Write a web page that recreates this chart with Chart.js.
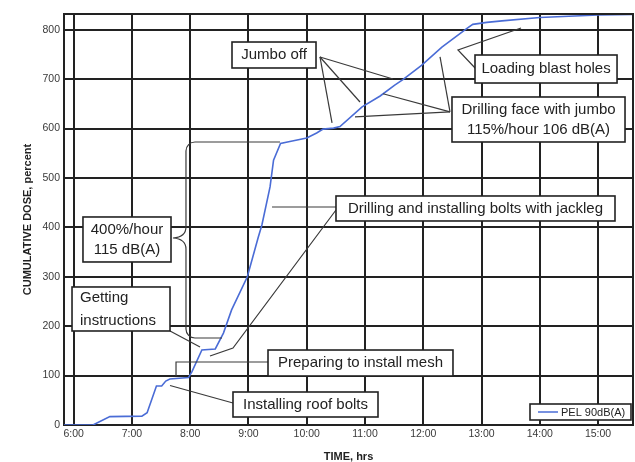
<!DOCTYPE html>
<html lang="en">
<head>
    <meta charset="UTF-8">
    <title>Cumulative Dose</title>
    <script src="https://cdn.jsdelivr.net/npm/chart.js"></script>
    <style>
        html, body { margin: 0; padding: 0; background: #fff; }
        #wrap { width: 635px; height: 462px; }
    </style>
</head>
<body>
<div id="wrap"><canvas id="doseChart" width="635" height="462"></canvas></div>
<script>
// --- data (time in decimal hours, dose in percent) ---
const TIME_HRS = [5.83, 6.33, 6.62, 7.17, 7.26, 7.42, 7.51, 7.58, 7.65, 7.97,
                  8.03, 8.20, 8.43, 8.57, 8.71, 8.98, 9.17, 9.23, 9.37, 9.43,
                  9.55, 9.71, 10.00, 10.17, 10.28, 10.46, 10.57, 10.95, 11.26, 11.51,
                  11.65, 11.97, 12.32, 12.75, 12.85, 13.09, 13.35, 14.00, 15.00, 15.60];
const DOSE_PCT = [0, 0, 17, 18, 25, 79, 79, 89, 93, 96,
                  108, 152, 154, 186, 233, 300, 381, 405, 482, 536,
                  570, 574, 581, 591, 599, 601, 604, 644, 666, 688,
                  699, 728, 765, 803, 811, 815, 818, 825, 830, 831];
const SERIES_LABEL = 'PEL 90dB(A)';

const TIME_TICKS = [6, 7, 8, 9, 10, 11, 12, 13, 14, 15];
const TIME_LABELS = ['6:00', '7:00', '8:00', '9:00', '10:00', '11:00', '12:00', '13:00', '14:00', '15:00'];
const DOSE_TICKS = [0, 100, 200, 300, 400, 500, 600, 700, 800];

// --- callouts, placed in data units (hours, percent) ---
const NOTE_BOXES = [
    { text: ['Jumbo off'], box: [8.717, 775.3, 10.159, 722.7] },
    { text: ['Drilling face with jumbo', '115%/hour 106 dB(A)'], box: [12.493, 664.0, 15.463, 572.9] },
    { text: ['Loading blast holes'], box: [12.888, 749.0, 15.326, 692.3] },
    { text: ['Drilling and installing bolts with jackleg'], box: [10.502, 463.6, 15.291, 413.0] },
    { text: ['400%/hour', '115 dB(A)'], box: [6.159, 421.1, 7.670, 330.0] },
    { text: ['Getting', 'instructions'], box: [5.971, 279.4, 7.653, 190.3], align: 'left', gap: 23 },
    { text: ['Preparing to install mesh'], box: [9.335, 151.8, 12.510, 99.2] },
    { text: ['Installing roof bolts'], box: [8.734, 66.8, 11.223, 16.2] }
];
const LEADERS = [
    [[10.227, 745], [11.48, 700.4]],
    [[10.227, 745], [10.914, 653.9]],
    [[10.227, 745], [10.434, 611.4]],
    [[12.459, 634], [11.309, 670.5]],
    [[12.459, 634], [10.828, 623.9]],
    [[12.459, 634], [12.288, 745]],
    [[12.905, 720.7], [12.596, 759.1], [13.678, 803.7]],
    [[10.502, 441.3], [9.404, 441.3]],
    [[10.502, 435.2], [8.734, 155.9], [8.339, 139.7]],
    [[7.653, 190.3], [8.168, 157.9]],
    [[9.335, 127.5], [7.756, 127.5], [7.756, 99.2]],
    [[8.734, 44.5], [7.653, 80]]
];
// brace linking the 400%/hour box to the steep part of the curve
const BRACE = { top: [9.541, 572.9], spine: 7.927, tip: [7.704, 378.5], bottom: [8.545, 176.1] };

const FONT = "'Liberation Sans', Arial, sans-serif";
const INK = '#222';
const LINE_BLUE = '#4a6cd6';

const calloutPlugin = {
    id: 'callouts',
    afterDatasetsDraw(chart) {
        const { ctx, chartArea: a, scales: { x, y } } = chart;
        const px = (p) => [x.getPixelForValue(p[0]), y.getPixelForValue(p[1])];
        ctx.save();

        // plot frame (top and right edges)
        ctx.strokeStyle = INK;
        ctx.lineWidth = 2;
        ctx.beginPath();
        ctx.moveTo(a.left, a.top);
        ctx.lineTo(a.right, a.top);
        ctx.lineTo(a.right, a.bottom);
        ctx.stroke();

        // leader lines
        ctx.strokeStyle = '#3a3a3a';
        ctx.lineWidth = 1.2;
        LEADERS.forEach(pts => {
            ctx.beginPath();
            pts.forEach((p, i) => {
                const [px0, py0] = px(p);
                if (i === 0) ctx.moveTo(px0, py0); else ctx.lineTo(px0, py0);
            });
            ctx.stroke();
        });

        // brace
        const [tx, ty] = px(BRACE.top);
        const [bx, by] = px(BRACE.bottom);
        const sx = x.getPixelForValue(BRACE.spine);
        const [kx, ky] = px(BRACE.tip);
        ctx.beginPath();
        ctx.moveTo(tx, ty);
        ctx.arcTo(sx, ty, sx, ty + 20, 9);
        ctx.lineTo(sx, ky - 11);
        ctx.quadraticCurveTo(sx, ky - 1, kx, ky);
        ctx.quadraticCurveTo(sx, ky + 1, sx, ky + 11);
        ctx.arcTo(sx, by, sx + 20, by, 9);
        ctx.lineTo(bx, by);
        ctx.stroke();

        // boxes
        ctx.font = '15px ' + FONT;
        ctx.textBaseline = 'middle';
        NOTE_BOXES.forEach(n => {
            const [x0, y0] = px([n.box[0], n.box[1]]);
            const [x1, y1] = px([n.box[2], n.box[3]]);
            ctx.fillStyle = '#fff';
            ctx.fillRect(x0, y0, x1 - x0, y1 - y0);
            ctx.strokeStyle = INK;
            ctx.lineWidth = 1.6;
            ctx.strokeRect(x0, y0, x1 - x0, y1 - y0);
            ctx.fillStyle = INK;
            const gap = n.gap || 20;
            const cy = (y0 + y1) / 2 - (n.text.length - 1) * gap / 2;
            n.text.forEach((t, i) => {
                if (n.align === 'left') {
                    ctx.textAlign = 'left';
                    ctx.fillText(t, x0 + 8, cy + i * gap);
                } else {
                    ctx.textAlign = 'center';
                    ctx.fillText(t, (x0 + x1) / 2, cy + i * gap);
                }
            });
        });

        // legend, bottom right inside the plot
        const ds = chart.data.datasets[0];
        const lx1 = a.right - 2, lx0 = lx1 - 101, ly0 = a.bottom - 21, ly1 = a.bottom - 5;
        ctx.fillStyle = '#fff';
        ctx.fillRect(lx0, ly0, lx1 - lx0, ly1 - ly0);
        ctx.strokeStyle = INK;
        ctx.lineWidth = 1.6;
        ctx.strokeRect(lx0, ly0, lx1 - lx0, ly1 - ly0);
        ctx.strokeStyle = ds.borderColor;
        ctx.lineWidth = 1.5;
        ctx.beginPath();
        ctx.moveTo(lx0 + 8, (ly0 + ly1) / 2);
        ctx.lineTo(lx0 + 28, (ly0 + ly1) / 2);
        ctx.stroke();
        ctx.fillStyle = INK;
        ctx.font = '11px ' + FONT;
        ctx.textAlign = 'left';
        ctx.fillText(ds.label, lx0 + 31, (ly0 + ly1) / 2 + 0.5);

        ctx.restore();
    }
};

new Chart(document.getElementById('doseChart'), {
    type: 'line',
    data: {
        datasets: [{
            label: SERIES_LABEL,
            data: TIME_HRS.map((t, i) => ({ x: t, y: DOSE_PCT[i] })),
            borderColor: LINE_BLUE,
            borderWidth: 1.6,
            pointRadius: 0,
            tension: 0,
            fill: false
        }]
    },
    options: {
        responsive: false,
        animation: false,
        devicePixelRatio: 1,
        layout: { padding: { top: 14, right: 2, left: 0, bottom: 0 } },
        plugins: { legend: { display: false }, tooltip: { enabled: false } },
        scales: {
            x: {
                type: 'linear',
                min: 5.8333,
                max: 15.6,
                afterBuildTicks: s => { s.ticks = TIME_TICKS.map(v => ({ value: v })); },
                afterFit: s => { s.height = 37; },
                ticks: {
                    callback: (v, i) => TIME_LABELS[i],
                    font: { family: FONT, size: 10.5 },
                    color: '#3a3a3a',
                    padding: 3,
                    maxRotation: 0,
                    autoSkip: false
                },
                grid: { color: INK, lineWidth: 2, drawTicks: false },
                border: { display: true, color: INK, width: 2 },
                title: {
                    display: true,
                    text: 'TIME, hrs',
                    color: INK,
                    font: { family: FONT, size: 11, weight: 'bold', lineHeight: 1 },
                    padding: { top: 0, bottom: 0 }
                }
            },
            y: {
                min: 0,
                max: 832,
                afterBuildTicks: s => { s.ticks = DOSE_TICKS.map(v => ({ value: v })); },
                afterFit: s => { s.width = 64; },
                ticks: {
                    font: { family: FONT, size: 10.5 },
                    color: '#3a3a3a',
                    padding: 4
                },
                grid: { color: INK, lineWidth: 2, drawTicks: false },
                border: { display: true, color: INK, width: 2 },
                title: {
                    display: true,
                    text: 'CUMULATIVE DOSE, percent',
                    color: INK,
                    font: { family: FONT, size: 11, weight: 'bold', lineHeight: 1 },
                    padding: { top: 22, bottom: 0 }
                }
            }
        }
    },
    plugins: [calloutPlugin]
});
</script>
</body>
</html>
